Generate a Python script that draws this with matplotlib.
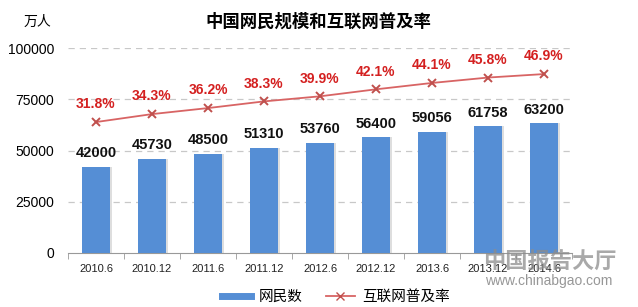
import matplotlib
matplotlib.use("Agg")
import matplotlib.pyplot as plt
import numpy as np
from matplotlib.lines import Line2D

plt.rcParams['font.family'] = ['Noto Sans CJK SC', 'DejaVu Sans']

categories = ["2010.6", "2010.12", "2011.6", "2011.12", "2012.6", "2012.12", "2013.6", "2013.12", "2014.6"]
netizens = [42000, 45730, 48500, 51310, 53760, 56400, 59056, 61758, 63200]
penetration = [31.8, 34.3, 36.2, 38.3, 39.9, 42.1, 44.1, 45.8, 46.9]
yticks = [0, 25000, 50000, 75000, 100000]

fig = plt.figure(figsize=(6.38, 3.07), dpi=100)
W, H = 638, 307
ax = fig.add_axes([68 / W, 1 - 253 / H, (572 - 68) / W, (253 - 48) / H])
x = np.arange(len(categories))

ax.set_facecolor("none")
ax.set_ylim(0, 100000)
ax.set_xlim(-0.5, len(categories) - 0.5)
ax.set_yticks(yticks)
ax.set_yticklabels([str(t) for t in yticks], fontsize=10, family="Liberation Sans")
for t in yticks[1:]:
    ax.axhline(t, color="#c8c8c8", ls=(0, (5, 4)), lw=0.9, zorder=1)

# soft shadow
ax.bar(x + 0.03, netizens, width=0.5, color="#dedede", zorder=2)
ax.bar(x, netizens, width=0.5, color="#558ED5", zorder=3)
for xi, v in zip(x, netizens):
    ax.text(xi, v + 3300, str(v), ha="center", va="bottom", fontsize=10.5,
            fontweight="bold", color="#111111", family="Liberation Sans", zorder=5)

ax.set_xticks(x)
ax.set_xticklabels(categories, fontsize=8, family="Liberation Sans", color="#222222")
ax.tick_params(axis="x", length=0, pad=8)
ax.tick_params(axis="y", length=0, pad=10)
ax.set_xticks(np.arange(-0.5, len(categories)), minor=True)
ax.tick_params(axis="x", which="minor", length=4, color="#999999", direction="out")
for s in ["top", "right", "left"]:
    ax.spines[s].set_visible(False)
ax.spines["bottom"].set_color("#999999")

ax2 = ax.twinx()
ax2.set_ylim(-9.4, 55.1)
ax2.axis("off")
ax2.plot(x, penetration, color="#D86464", lw=1.3, marker="x", ms=6, mew=1.4,
         mec="#C0504D", zorder=4)
for xi, p in zip(x, penetration):
    ax2.text(xi, p + 3.4, f"{p}%", ha="center", va="bottom", fontsize=10,
             fontweight="bold", color="#D42020", family="Liberation Sans")

fig.text(24 / W, 1 - 22 / H, "万人", fontsize=10, ha="left", va="center")
fig.text(318 / W, 1 - 22 / H, "中国网民规模和互联网普及率", fontsize=12.5,
         fontweight="bold", ha="center", va="center")

handles = [Line2D([0], [0], color="#558ED5", lw=5),
           Line2D([0], [0], color="#D86464", lw=1.3, marker="x", mec="#C0504D", ms=6)]
fig.legend(handles, ["网民数", "互联网普及率"], loc="center", bbox_to_anchor=(336 / W, 1 - 297 / H),
           ncol=2, frameon=False, fontsize=10.5, handlelength=2.0, columnspacing=1.6,
           handletextpad=0.5)

# logo watermark
fig.text(550 / W, 1 - 262 / H, "中国报告大厅", fontsize=16, color="#8c8c8c", alpha=0.75,
         ha="center", va="center", fontweight="bold")
fig.text(549 / W, 1 - 281 / H, "www.chinabgao.com", fontsize=10, color="#8c8c8c", alpha=0.9,
         ha="center", va="center", family="Liberation Sans")

fig.savefig("out.png", dpi=100)
